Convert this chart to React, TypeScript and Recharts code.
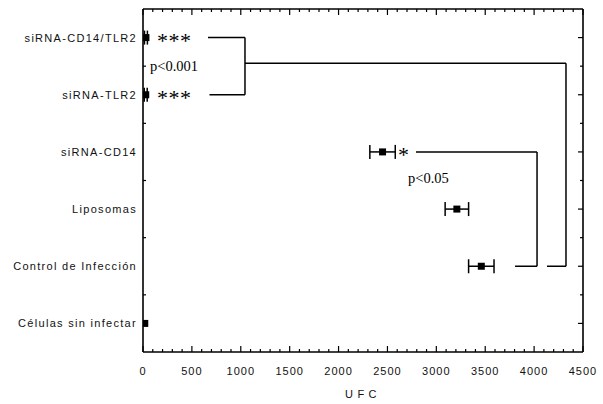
import React from 'react';
import { ScatterChart, Scatter, XAxis, YAxis, ErrorBar, ReferenceLine } from 'recharts';

const categories = [
  'siRNA-CD14/TLR2',
  'siRNA-TLR2',
  'siRNA-CD14',
  'Liposomas',
  'Control de Infección',
  'Células sin infectar',
];
const ufcValues = [30, 28, 2450, 3210, 3460, 18];
const ufcErrors = [15, 15, 130, 120, 130, 0];

const majorXTicks = [0, 500, 1000, 1500, 2000, 2500, 3000, 3500, 4000, 4500];
const xTicks = Array.from({ length: 46 }, (_, i) => i * 100);
const yTicks = [0, 0.5, 1, 1.5, 2, 2.5, 3, 3.5, 4, 4.5, 5];

const annotationTexts = ['***', '***', '*', 'p<0.001', 'p<0.05'];
const annotationX = [143, 143, 2608, 72, 2710];
const annotationY = [0, 1, 2, 0.5, 2.45];

// bracket segments in data units [x1, y1, x2, y2]
const bracketSegments: [number, number, number, number][] = [
  [665, 0, 1043, 0],
  [1043, 0, 1043, 1],
  [680, 1, 1043, 1],
  [1043, 0.45, 4326, 0.45],
  [4326, 0.45, 4326, 4],
  [4132, 4, 4326, 4],
  [2792, 2, 4030, 2],
  [4030, 2, 4030, 4],
  [3805, 4, 4030, 4],
];

const data = categories.map((name, i) => ({ name, x: ufcValues[i], y: i, err: ufcErrors[i] }));
const annotations = annotationTexts.map((text, i) => ({ text, x: annotationX[i], y: annotationY[i] }));

const SANS = '"Liberation Sans", Arial, sans-serif';
const SERIF = '"Liberation Serif", "Times New Roman", serif';

const BottomTick = (props: any) => {
  const { x, y, payload } = props;
  const v = payload.value;
  const major = majorXTicks.includes(v);
  return (
    <g>
      <line x1={x} x2={x} y1={y} y2={y - (major ? 6 : 3)} stroke="#000" strokeWidth={1.2} />
      {major && (
        <text x={x} y={y + 23} textAnchor="middle" fontSize={11} fontFamily={SANS} letterSpacing={1} fill="#111">
          {v}
        </text>
      )}
    </g>
  );
};

const TopTick = (props: any) => {
  const { x, y, payload } = props;
  const major = majorXTicks.includes(payload.value);
  return <line x1={x} x2={x} y1={y} y2={y + (major ? 6 : 3)} stroke="#000" strokeWidth={1.2} />;
};

const LeftTick = (props: any) => {
  const { x, y, payload } = props;
  const v = payload.value;
  if (v % 1 === 0) {
    return (
      <text x={x - 6} y={y} dy={4} textAnchor="end" fontSize={11} fontFamily={SANS} letterSpacing={1.3} fill="#111">
        {categories[v]}
      </text>
    );
  }
  return <line x1={x} x2={x + 3} y1={y} y2={y} stroke="#000" strokeWidth={1.2} />;
};

const RightTick = (props: any) => {
  const { x, y, payload } = props;
  const major = payload.value % 1 === 0;
  return <line x1={x} x2={x - (major ? 5 : 3)} y1={y} y2={y} stroke="#000" strokeWidth={1.2} />;
};

const MarkerShape = (props: any) => {
  const { cx, cy } = props;
  return <rect x={cx - 3.5} y={cy - 3.5} width={7} height={7} fill="#000" />;
};

const AnnotationShape = (props: any) => {
  const { cx, cy, payload } = props;
  const t = payload.text as string;
  if (t.startsWith('*')) {
    return (
      <text x={cx} y={cy} dy={10} fontSize={22} fontFamily={SERIF} letterSpacing={0.5} fill="#000">
        {t}
      </text>
    );
  }
  return (
    <text x={cx} y={cy} dy={5} fontSize={14.5} fontFamily={SERIF} fill="#000">
      {t}
    </text>
  );
};

export default function App() {
  return (
    <div style={{ position: 'absolute', left: 0, top: 0, background: '#fff' }}>
      <ScatterChart width={603} height={404} margin={{ top: 0, right: 0, bottom: 0, left: 0 }}>
        <XAxis
          xAxisId={0}
          type="number"
          dataKey="x"
          domain={[0, 4500]}
          ticks={xTicks}
          interval={0}
          allowDataOverflow
          height={52}
          tickSize={0}
          tickMargin={0}
          tickLine={false}
          tick={<BottomTick />}
          axisLine={{ stroke: '#000', strokeWidth: 1.6 }}
          label={{ value: 'UFC', position: 'insideBottom', offset: 6, fontSize: 11, fontFamily: SANS, letterSpacing: 4.5, fill: '#111' }}
        />
        <XAxis
          xAxisId="top"
          orientation="top"
          type="number"
          dataKey="x"
          domain={[0, 4500]}
          ticks={xTicks}
          interval={0}
          allowDataOverflow
          height={9}
          tickSize={0}
          tickMargin={0}
          tickLine={false}
          tick={<TopTick />}
          axisLine={{ stroke: '#000', strokeWidth: 1.6 }}
        />
        <YAxis
          yAxisId={0}
          type="number"
          dataKey="y"
          domain={[-0.5, 5.5]}
          reversed
          ticks={yTicks}
          interval={0}
          allowDataOverflow
          width={143}
          tickSize={0}
          tickMargin={0}
          tickLine={false}
          tick={<LeftTick />}
          axisLine={{ stroke: '#000', strokeWidth: 1.6 }}
        />
        <YAxis
          yAxisId="right"
          orientation="right"
          type="number"
          dataKey="y"
          domain={[-0.5, 5.5]}
          reversed
          ticks={yTicks}
          interval={0}
          allowDataOverflow
          width={20}
          tickSize={0}
          tickMargin={0}
          tickLine={false}
          tick={<RightTick />}
          axisLine={{ stroke: '#000', strokeWidth: 1.6 }}
        />
        {bracketSegments.map((s, i) => (
          <ReferenceLine
            key={i}
            xAxisId={0}
            yAxisId={0}
            segment={[{ x: s[0], y: s[1] }, { x: s[2], y: s[3] }]}
            stroke="#000"
            strokeWidth={1.5}
            ifOverflow="visible"
          />
        ))}
        <Scatter xAxisId={0} yAxisId={0} data={data} shape={<MarkerShape />} isAnimationActive={false}>
          <ErrorBar dataKey="err" direction="x" width={7} stroke="#000" strokeWidth={1.5} />
        </Scatter>
        <Scatter xAxisId={0} yAxisId={0} data={annotations} shape={<AnnotationShape />} isAnimationActive={false} />
        <Scatter xAxisId="top" yAxisId="right" data={[]} isAnimationActive={false} />
      </ScatterChart>
    </div>
  );
}
